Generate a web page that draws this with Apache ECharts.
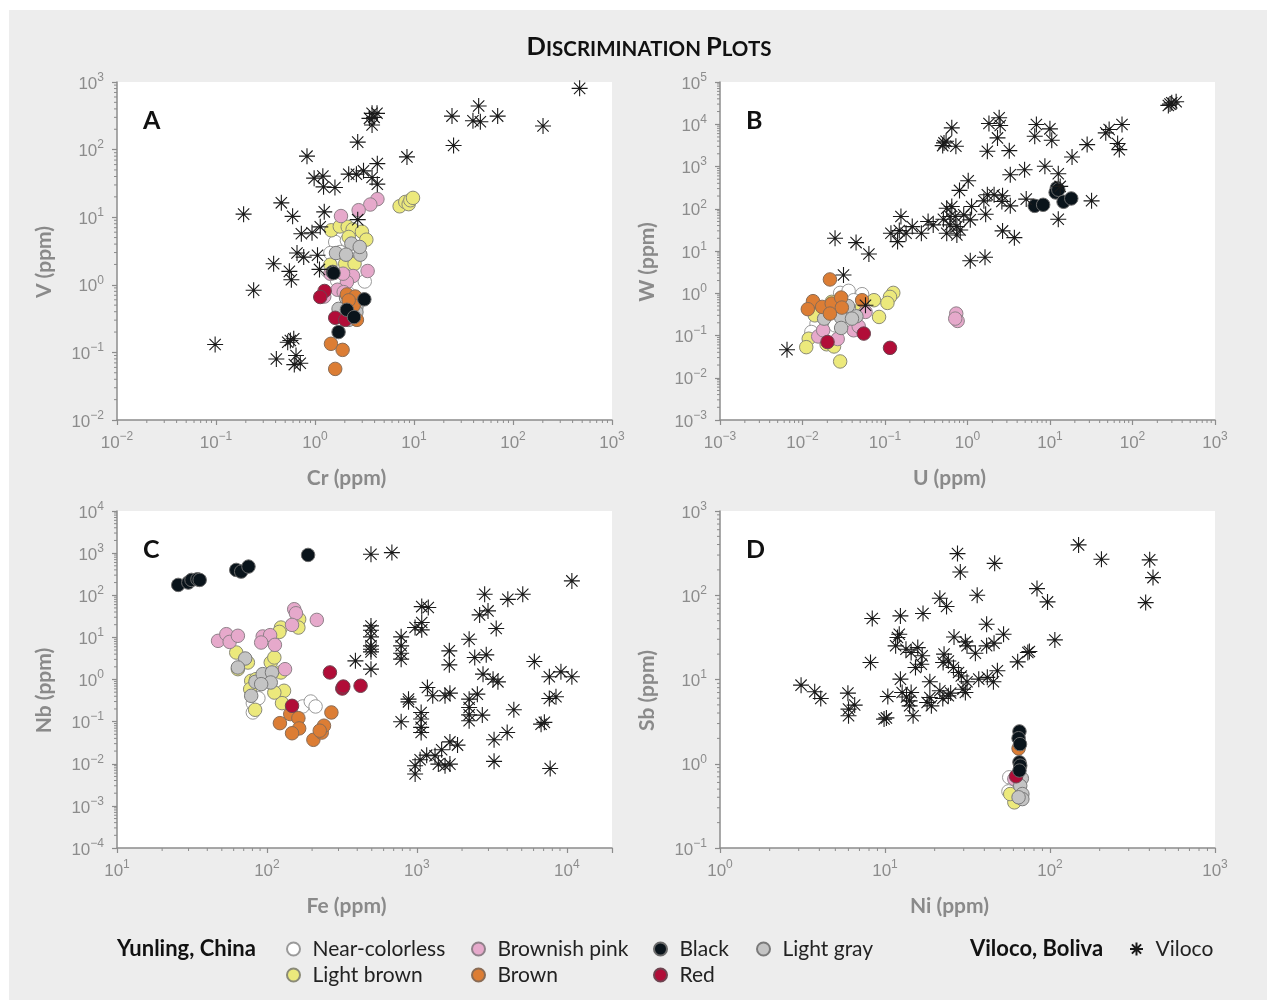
<!DOCTYPE html>
<html><head><meta charset="utf-8">
<script src="https://cdn.jsdelivr.net/npm/echarts@6.0.0/dist/echarts.min.js"></script>
<style>
html,body{margin:0;padding:0;background:#fff;}
#bg{position:absolute;left:9px;top:10px;width:1258px;height:990px;background:#ededed;}
#chart{position:absolute;left:0;top:0;width:1276px;height:1004px;}
</style></head><body>
<div id="bg"></div><div id="chart"></div>
<script>
// ---------- Panel A: Cr (x) vs V (y), ppm ----------
const A_near = [[1.60,4.3],[2.10,4.55],[1.43,2.95],[1.80,3.05],[2.65,3.23],[3.18,1.12],[2.19,0.74],[1.67,1.16],[1.32,1.64]];
const A_lightBrown = [[7.16,14.5],[8.17,16.8],[8.83,15.6],[9.19,17.8],[9.77,19.3],[1.46,6.4],[1.78,7.3],[2.14,7.2],[2.40,6.6],[2.98,6.1],[3.30,4.65],[2.19,5.1],[2.02,2.05],[2.51,2.05],[1.43,1.98]];
const A_pink = [[4.27,18.5],[3.62,15.4],[2.76,12.7],[1.83,10.4],[3.40,1.60],[2.42,1.35],[2.10,1.10],[1.69,0.845],[1.92,1.46],[1.43,1.46],[1.24,0.67],[1.95,0.78]];
const A_gray = [[2.33,4.07],[1.63,2.95],[2.06,2.79],[2.87,2.79],[2.83,3.63],[2.06,0.64],[1.73,0.44],[2.62,0.47],[2.62,0.394],[2.19,0.303]];
const A_brown = [[2.10,0.72],[2.55,0.67],[2.46,0.495],[2.65,0.303],[1.45,0.134],[1.90,0.109],[1.60,0.057],[2.19,0.59]];
const A_red = [[1.25,0.81],[1.13,0.66],[1.60,0.325],[2.02,0.303]];
const A_black = [[1.51,1.55],[1.54,1.49],[3.15,0.61],[2.10,0.427],[1.73,0.20],[2.48,0.333]];
const A_viloco = [[471,805],[45,441],[24.2,313],[39.4,267],[46.8,258],[70,313],[201,223],[25.1,115],[3.77,344],[4.23,344],[3.55,290],[3.95,300],[3.77,231],[2.70,129],[0.83,80],[8.49,78],[4.26,62],[3.09,48.5],[2.62,43.3],[2.19,43.3],[3.77,38.6],[4.26,30.8],[0.98,37.8],[1.20,40.5],[1.22,28.1],[1.59,27.5],[0.457,16.3],[0.19,11.1],[0.594,10.3],[1.24,12],[2.70,9.2],[0.728,5.7],[0.933,5.9],[1.13,7.2],[0.658,2.95],[0.769,2.57],[1.06,2.73],[0.382,2.05],[0.551,1.58],[0.577,1.19],[1.11,1.69],[0.24,0.83],[0.098,0.131],[0.564,0.15],[0.61,0.159],[0.53,0.1416],[0.407,0.080],[0.643,0.090],[0.618,0.066],[0.71,0.069]];

// ---------- Panel B: U (x) vs W (y), ppm ----------
const B_near = [[0.0286,1.02],[0.0362,1.14],[0.0528,0.95],[0.0148,0.191],[0.0248,0.174],[0.0417,0.685],[0.0128,0.121]];
const B_lightBrown = [[0.126,1.02],[0.115,0.82],[0.107,0.59],[0.0735,0.685],[0.0847,0.275],[0.0226,0.625],[0.0141,0.30],[0.0119,0.084],[0.0111,0.053],[0.0196,0.062],[0.0241,0.055],[0.0286,0.0243],[0.0528,0.475]];
const B_pink = [[0.73,0.33],[0.759,0.221],[0.71,0.251],[0.0155,0.095],[0.0178,0.133],[0.0267,0.0826],[0.0417,0.133],[0.048,0.165],[0.058,0.362]];
const B_gray = [[0.0183,0.251],[0.0294,0.265],[0.0355,0.50],[0.045,0.285],[0.0294,0.151],[0.0398,0.251]];
const B_brown = [[0.0215,2.12],[0.0134,0.65],[0.0116,0.42],[0.0173,0.475],[0.0226,0.57],[0.0294,0.79],[0.0528,0.685],[0.030,0.458],[0.0215,0.33]];
const B_red = [[0.0201,0.070],[0.0553,0.111],[0.115,0.051]];
const B_black = [[6.53,117],[8.26,124],[12.1,308],[11.7,243],[12.6,282],[14.6,146],[18.1,175]];
const B_viloco = [[272,27900],[299,32300],[338,34100],[285,30000],[0.645,8220],[0.519,3620],[0.50,3125],[0.723,3015],[0.55,3960],[1.82,10420],[2.42,14200],[2.49,9330],[2.31,4750],[1.74,2290],[3.21,2375],[6.84,9860],[6.53,5210],[9.98,7780],[10.5,4190],[18.5,1680],[28.2,3300],[47.4,6250],[52.1,7500],[74.6,9860],[66,3490],[69.2,2510],[8.67,1010],[12.6,676],[4.92,841],[3.30,640],[1.02,460],[0.80,272],[1.74,214],[2.10,214],[2.66,203],[2.61,149],[1.58,154],[5.15,169],[3.30,117],[13.3,338],[31.9,154],[12.6,56.5],[2.66,29.9],[3.70,20.7],[1.66,74.3],[1.12,113],[1.08,54.6],[0.90,71.6],[0.56,103],[0.645,113],[0.71,65.5],[0.615,41.5],[0.56,26.3],[0.743,37.8],[0.816,31.5],[0.743,24],[0.51,56.5],[0.615,65.5],[0.384,41.5],[0.333,49.8],[0.276,26.3],[0.214,37.8],[0.18,26.3],[0.156,65.5],[0.149,30.4],[0.142,16.7],[0.118,26.3],[0.0248,20],[0.0446,15.8],[0.0638,8.5],[1.08,5.9],[1.63,7.1],[0.0314,2.7],[0.058,0.52],[0.00649,0.046]];

// ---------- Panel C: Fe (x) vs Nb (y), ppm ----------
const C_near = [[80.5,0.275],[87.7,0.36],[173,0.229],[196,0.30],[211,0.229],[80.5,0.165]];
const C_lightBrown = [[62.4,4.37],[74.6,2.53],[64,1.76],[78.5,0.93],[77.3,0.59],[83.4,0.191],[106,2.53],[112,3.33],[124,1.47],[130,0.54],[126,0.275],[164,27],[162,17.1],[124,17.1],[121,13.5],[112,0.49],[84.7,1.02]];
const C_pink = [[47.2,8.27],[53.6,11.9],[56.4,7.8],[64,10.9],[93.7,10.5],[105,11.3],[91.5,7.55],[113,6.64],[152,46.6],[156,37.4],[147,19.8],[215,26],[132,1.76]];
const C_gray = [[71.6,3.15],[64,1.93],[83.8,0.88],[93.7,1.34],[108,1.47],[106,0.85],[78.5,0.41],[91.5,0.775]];
const C_brown = [[122,0.092],[143,0.151],[162,0.121],[164,0.069],[147,0.053],[204,0.037],[232,0.055],[240,0.080],[269,0.165],[225,0.061]];
const C_red = [[263,1.47],[318,0.61],[323,0.68],[421,0.71],[147,0.237]];
const C_black = [[25.6,176],[29.9,200],[31.4,231],[34.4,239],[35.6,231],[62.4,399],[67.3,364],[75.3,479],[188,906]];
const C_viloco = [[494,938],[681,1028],[10800,219],[2830,106],[4040,80],[5080,106],[1077,53.8],[1191,51],[2980,42.5],[2620,34.2],[3380,16.2],[972,17.1],[1077,22.5],[1077,15.1],[2230,9.06],[494,18.7],[494,14.8],[494,10.3],[494,6.3],[494,5.24],[494,4.53],[494,1.76],[785,10.3],[785,6.3],[785,4.2],[785,3.04],[389,2.77],[1645,4.79],[1645,2.23],[2430,3.33],[2900,3.85],[6070,2.67],[2760,1.34],[3220,1.02],[3470,0.88],[7640,1.16],[9130,1.52],[10800,1.16],[1175,0.645],[1275,0.41],[1540,0.41],[1660,0.474],[879,0.342],[879,0.295],[2230,0.342],[2230,0.217],[2230,0.145],[2230,0.105],[2530,0.449],[2730,0.143],[4430,0.191],[7640,0.355],[8460,0.388],[1067,0.165],[1067,0.115],[1067,0.073],[1067,0.055],[785,0.099],[6730,0.087],[7080,0.096],[4000,0.055],[3270,0.037],[1660,0.033],[1866,0.0277],[1462,0.0215],[1321,0.0155],[1162,0.016],[1050,0.0124],[973,0.0090],[973,0.0057],[1390,0.0098],[1540,0.009],[1660,0.0098],[3270,0.0114],[7740,0.0077]];

// ---------- Panel D: Ni (x) vs Sb (y), ppm ----------
const D_near = [[56.6,0.69],[59.4,0.50],[56,0.47]];
const D_lightBrown = [[60.8,0.348],[57.4,0.437]];
const D_pink = [[60.8,0.66]];
const D_gray = [[67.5,0.67],[66,0.548],[68,0.437],[68,0.381],[64.5,0.40]];
const D_brown = [[64.5,1.52]];
const D_red = [[62.3,0.71]];
const D_black = [[65.3,2.42],[64.5,2.01],[65.8,1.71],[65.3,1.04],[66,0.95],[65.3,0.83]];
const D_viloco = [[149,396],[205,267],[402,263],[421,162],[380,81.8],[83.4,120],[96.6,83.4],[107,29.5],[27.5,312],[28.6,189],[46.2,239],[36.2,100],[21.5,92],[23.6,73.4],[8.37,52.9],[12.4,56.9],[17,60.7],[41.3,45.3],[12.2,34.5],[11.9,31.5],[11.6,25.1],[26.2,32],[52.3,34.5],[30.7,28],[31.4,25.1],[41.3,25.1],[45.8,27],[13.4,22.9],[15.8,23.9],[14.4,20.9],[16.8,19.1],[22.8,20],[35.3,20.5],[73.4,20.9],[75,21.5],[8.17,15.9],[63.7,16.2],[15.3,13.9],[16.6,15.2],[22.5,15.9],[24.2,16.6],[26,13.9],[27.9,12.1],[48,12.7],[12.4,10.1],[18.7,9.4],[31.4,9.4],[29,11],[37,10.1],[41.7,10.6],[45.4,9.4],[3.1,8.57],[3.75,7.15],[4.08,5.96],[5.96,6.89],[6.01,4.45],[6.01,3.71],[6.55,4.97],[10.4,6.28],[9.87,3.39],[10.2,3.5],[12.7,7.02],[14.4,7.02],[13.5,6.2],[14.1,5.58],[14.1,4.87],[14.8,3.71],[18.7,6.12],[18,5.33],[19.1,4.87],[21.5,7.35],[22.4,5.96],[24.2,6.4],[25,6.9],[29.7,7.67],[30.7,7.02]];

// ---------- Names / labels ----------
const panelLetters = ['A','B','C','D'];
const xNames = ['Cr (ppm)','U (ppm)','Fe (ppm)','Ni (ppm)'];
const yNames = ['V (ppm)','W (ppm)','Nb (ppm)','Sb (ppm)'];
const xRanges = [[0.01,1000],[0.001,1000],[10,20000],[1,1000]];
const yRanges = [[0.01,1000],[0.001,100000],[0.0001,10000],[0.1,1000]];
const groupNames = ['Near-colorless','Light brown','Brownish pink','Light gray','Brown','Red','Black'];
const vilocoName = 'Viloco';
const titleText = 'Discrimination Plots';

const panelSeries = [
  [A_near,A_lightBrown,A_pink,A_gray,A_brown,A_red,A_black,A_viloco],
  [B_near,B_lightBrown,B_pink,B_gray,B_brown,B_red,B_black,B_viloco],
  [C_near,C_lightBrown,C_pink,C_gray,C_brown,C_red,C_black,C_viloco],
  [D_near,D_lightBrown,D_pink,D_gray,D_brown,D_red,D_black,D_viloco]
];

// ---------- styles ----------
const groupColors = ['#ffffff','#ece97c','#e6a9cb','#c4c4c4','#dc7d34','#b10d38','#0a141b'];
const groupBorders = ['#9a9a9a','#8a8a78','#8f8189','#7a7a7a','#8a6c55','#6e4450','#6a6a6a'];
const grids = [
  {left:117, top:82, width:495, height:338},
  {left:720, top:82, width:495, height:338},
  {left:117, top:511, width:495, height:337},
  {left:720, top:511, width:495, height:337}
];
const AX = '#8c8c8c';
const starPath = 'path://M0,6L12,6M6,0L6,12M1.76,1.76L10.24,10.24M10.24,1.76L1.76,10.24';

function tickLabel(v){
  const l = Math.log10(v);
  const e = Math.round(l);
  if (Math.abs(l - e) > 1e-6) return '';
  return '{b|10}{s|' + (e < 0 ? '\u2212' : '') + Math.abs(e) + '}';
}
const labelRich = {
  b:{fontFamily:'Liberation Sans', fontSize:17, color:AX, verticalAlign:'bottom', lineHeight:21},
  s:{fontFamily:'Liberation Sans', fontSize:12, color:AX, verticalAlign:'top', lineHeight:14}
};
function minorTicks(range, dir, other){
  const out = [];
  const e0 = Math.floor(Math.log10(range[0])), e1 = Math.ceil(Math.log10(range[1]));
  for (let e = e0; e < e1; e++){
    for (let m = 2; m <= 9; m++){
      const v = m * Math.pow(10, e);
      if (v > range[0] && v < range[1]) out.push(dir === 0 ? [v, other, 0] : [other, v, 1]);
    }
  }
  return out;
}

const xAxes = [], yAxes = [], series = [];
grids.forEach((g, i) => {
  const common = {
    type:'log', logBase:10, gridIndex:i,
    axisLine:{show:true, onZero:false, lineStyle:{color:AX, width:1.5}},
    axisTick:{show:true, inside:false, length:5, lineStyle:{color:AX, width:1.2}},
    minorTick:{show:false}, splitLine:{show:false}, minorSplitLine:{show:false},
    axisLabel:{show:true, formatter:tickLabel, rich:labelRich, showMinLabel:true, showMaxLabel:true, hideOverlap:false},
    nameLocation:'middle',
    nameTextStyle:{fontFamily:'Lato', fontWeight:'bold', fontSize:21, color:'#8a8a8a'}
  };
  const xr = xRanges[i], yr = yRanges[i];
  xAxes.push(Object.assign({}, common, {
    min:xr[0], max:xr[1], splitNumber:Math.round(Math.log10(xr[1]/xr[0])),
    name:xNames[i], nameGap:48,
    nameTextStyle:Object.assign({}, common.nameTextStyle, {padding:[0,36,0,0]}),
    axisLabel:Object.assign({}, common.axisLabel, {margin:11})
  }));
  yAxes.push(Object.assign({}, common, {
    min:yr[0], max:yr[1], splitNumber:Math.round(Math.log10(yr[1]/yr[0])),
    name:yNames[i], nameGap:62,
    nameTextStyle:Object.assign({}, common.nameTextStyle, {padding:[0,22,0,0]}),
    axisLabel:Object.assign({}, common.axisLabel, {margin:13})
  }));
  // minor ticks at 2..9 of each decade, placed through the axes
  series.push({
    type:'custom', xAxisIndex:i, yAxisIndex:i, silent:true, clip:false, z:1,
    data: minorTicks(xr, 0, yr[0]).concat(minorTicks(yr, 1, xr[0])),
    renderItem:(params, api) => {
      const p = api.coord([api.value(0), api.value(1)]);
      const d = api.value(2);
      const shape = d === 0 ? {x1:p[0], y1:p[1], x2:p[0], y2:p[1] + 3} : {x1:p[0] - 3, y1:p[1], x2:p[0], y2:p[1]};
      return {type:'line', shape, style:{stroke:AX, lineWidth:1}};
    }
  });
  const sets = panelSeries[i];
  groupNames.forEach((nm, k) => {
    series.push({
      type:'scatter', name:nm, xAxisIndex:i, yAxisIndex:i, data:sets[k],
      symbol:'circle', symbolSize:13.5, z:2,
      itemStyle:{color:groupColors[k], borderColor:groupBorders[k], borderWidth:1, opacity:1},
      emphasis:{disabled:true}
    });
  });
  series.push({
    type:'scatter', name:vilocoName, xAxisIndex:i, yAxisIndex:i, data:sets[7],
    symbol:starPath, symbolSize:16, z:3,
    itemStyle:{color:'rgba(0,0,0,0)', borderColor:'#1a1a1a', borderWidth:1.1, opacity:1},
    emphasis:{disabled:true}
  });
});

const legendCommon = {
  orient:'vertical', top:938, padding:0, itemWidth:28, itemHeight:13, itemGap:4,
  selectedMode:false,
  textStyle:{fontFamily:'Lato', fontSize:21, color:'#222', lineHeight:22}
};
const legends = [
  Object.assign({}, legendCommon, {left:286, data:['Near-colorless','Light brown']}),
  Object.assign({}, legendCommon, {left:471, data:['Brownish pink','Brown']}),
  Object.assign({}, legendCommon, {left:653, data:['Black','Red']}),
  Object.assign({}, legendCommon, {left:756, data:['Light gray']}),
  Object.assign({}, legendCommon, {left:1129, data:['Viloco']})
];

function smallCaps(t){
  return t.split(' ').map(w => '{a|' + w[0].toUpperCase() + '}{b|' + w.slice(1).toUpperCase() + '}').join('{b| }');
}
const letterPos = [[143,121],[746,121],[143,550],[746,550]];
const graphics = [
  {type:'text', x:649, y:47, silent:true, style:{
    text:smallCaps(titleText), align:'center', verticalAlign:'middle',
    rich:{
      a:{fontFamily:'Lato', fontWeight:'bold', fontSize:25.5, fill:'#111', verticalAlign:'bottom'},
      b:{fontFamily:'Lato', fontWeight:'bold', fontSize:20.5, fill:'#111', verticalAlign:'bottom'}
    }}},
  {type:'text', x:117, y:949, silent:true, style:{text:'Yunling, China', font:'bold 22px Lato', fill:'#111', verticalAlign:'middle'}},
  {type:'text', x:970, y:949, silent:true, style:{text:'Viloco, Boliva', font:'bold 22px Lato', fill:'#111', verticalAlign:'middle'}}
];
panelLetters.forEach((L, i) => {
  graphics.push({type:'text', x:letterPos[i][0], y:letterPos[i][1], silent:true, z:10,
    style:{text:L, font:'bold 25px Lato', fill:'#111', verticalAlign:'middle'}});
});

const chart = echarts.init(document.getElementById('chart'), null, {renderer:'canvas'});
chart.setOption({
  backgroundColor:'transparent',
  animation:false,
  grid: grids.map(g => Object.assign({show:true, backgroundColor:'#ffffff', borderWidth:0, containLabel:false, outerBoundsMode:'none'}, g)),
  xAxis: xAxes,
  yAxis: yAxes,
  legend: legends,
  graphic: graphics,
  series: series
});
</script>
</body></html>
